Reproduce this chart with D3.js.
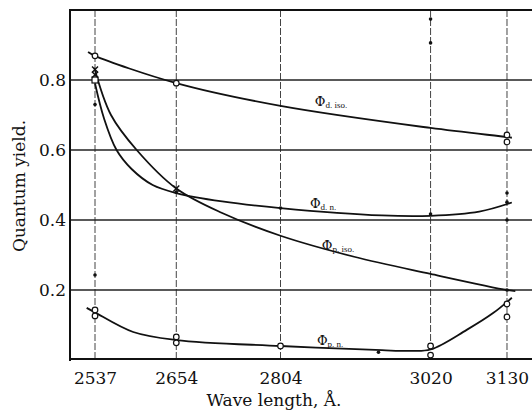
<!DOCTYPE html>
<html>
<head>
<meta charset="utf-8">
<script src="https://cdn.jsdelivr.net/npm/d3@7"></script>
<style>
  body { margin: 0; background: #fff; }
  text { font-family: "DejaVu Serif", "Liberation Serif", serif; fill: #111; }
</style>
</head>
<body>
<div id="chart"></div>
<script>
// Tick values
const waveTicks = [2537, 2654, 2804, 3020, 3130];
const yieldTicks = [0.2, 0.4, 0.6, 0.8];

// Smoothed curves [wavelength, quantum yield]
const phiDIso = [[2527, 0.88], [2537, 0.869], [2654, 0.791], [2804, 0.726], [3020, 0.663], [3130, 0.637], [3137, 0.635]];
const phiDN = [[2537, 0.79], [2550, 0.69], [2568, 0.60], [2590, 0.545], [2620, 0.50], [2654, 0.477], [2720, 0.453], [2804, 0.434], [2950, 0.413], [3020, 0.412], [3090, 0.424], [3137, 0.45]];
const phiPIso = [[2536, 0.835], [2560, 0.70], [2597, 0.60], [2654, 0.49], [2720, 0.42], [2804, 0.355], [2910, 0.295], [3020, 0.246], [3130, 0.20], [3142, 0.197]];
const phiPN = [[2525, 0.149], [2537, 0.136], [2592, 0.08], [2654, 0.057], [2804, 0.04], [2950, 0.028], [2990, 0.026], [3020, 0.03], [3072, 0.086], [3110, 0.134], [3137, 0.178]];

// Measured points
const openPoints = [[2537, 0.869], [2654, 0.791], [3130, 0.643], [3130, 0.623],
  [2537, 0.143], [2537, 0.126], [2654, 0.066], [2654, 0.049], [2804, 0.04],
  [3020, 0.04], [3020, 0.014], [3130, 0.16], [3130, 0.123]];
const squarePoints = [[2537, 0.80]];
const dotPoints = [[2537, 0.73], [2537, 0.243], [3020, 0.974], [3020, 0.906], [3130, 0.477],
  [3130, 0.451], [3130, 0.40], [3020, 0.417], [2804, 0.434], [2945, 0.022], [3130, 0.20], [2654, 0.48]];
const crossPoints = [[2537, 0.83], [2537, 0.815], [2654, 0.49]];

// Curve labels
const curveLabels = [
  { sub: "d. iso.", w: 2862, v: 0.717 },
  { sub: "d. n.", w: 2855, v: 0.426 },
  { sub: "p. iso.", w: 2872, v: 0.306 },
  { sub: "p. n.", w: 2865, v: 0.034 }
];

const W = 532, H = 412;
const svg = d3.select("#chart").append("svg")
    .attr("width", W)
    .attr("height", H);

const x = d3.scaleLinear().domain([2501, 3166]).range([70, 532]);
const y = d3.scaleLinear().domain([0, 1]).range([360, 10]);

// Vertical grid lines (dashed, at the wavelengths used)
svg.selectAll(".vgrid")
    .data(waveTicks)
  .enter().append("line")
    .attr("x1", d => x(d)).attr("x2", d => x(d))
    .attr("y1", y(1)).attr("y2", y(0))
    .attr("stroke", "#444")
    .attr("stroke-width", 1)
    .attr("stroke-dasharray", "7,2");

// Horizontal grid lines
svg.selectAll(".hgrid")
    .data(yieldTicks)
  .enter().append("line")
    .attr("x1", 70).attr("x2", W)
    .attr("y1", d => y(d)).attr("y2", d => y(d))
    .attr("stroke", "#222")
    .attr("stroke-width", 1.4);

// Frame: top, left, bottom
svg.append("line").attr("x1", 70).attr("x2", W).attr("y1", y(1)).attr("y2", y(1))
    .attr("stroke", "#111").attr("stroke-width", 2);
svg.append("line").attr("x1", 70).attr("x2", 70).attr("y1", y(1) - 1).attr("y2", y(0) + 1)
    .attr("stroke", "#111").attr("stroke-width", 2);
svg.append("line").attr("x1", 70).attr("x2", W).attr("y1", y(0) - 1).attr("y2", y(0) - 1)
    .attr("stroke", "#111").attr("stroke-width", 2);

// Axes (labels only)
const xAxis = svg.append("g")
    .attr("transform", "translate(0," + y(0) + ")")
    .call(d3.axisBottom(x).tickValues(waveTicks).tickSize(0).tickPadding(12).tickFormat(d3.format("d")));
xAxis.select(".domain").remove();
xAxis.selectAll("text").attr("font-size", 17).attr("font-family", null);

const yAxis = svg.append("g")
    .attr("transform", "translate(70,0)")
    .call(d3.axisLeft(y).tickValues(yieldTicks).tickSize(0).tickPadding(4).tickFormat(d3.format(".1f")));
yAxis.select(".domain").remove();
yAxis.selectAll("text").attr("font-size", 17).attr("font-family", null);

// Axis titles
svg.append("text")
    .attr("x", 274)
    .attr("y", 406)
    .attr("text-anchor", "middle")
    .attr("font-size", 17)
    .text("Wave length, Å.");

svg.append("text")
    .attr("transform", "translate(25,186) rotate(-90)")
    .attr("text-anchor", "middle")
    .attr("font-size", 17)
    .text("Quantum yield.");

// Curves
const line = d3.line()
    .x(d => x(d[0]))
    .y(d => y(d[1]))
    .curve(d3.curveCatmullRom.alpha(0.5));

[phiDIso, phiDN, phiPIso, phiPN].forEach(c => {
    svg.append("path")
        .datum(c)
        .attr("fill", "none")
        .attr("stroke", "#111")
        .attr("stroke-width", 1.8)
        .attr("d", line);
});

// Markers
svg.selectAll(".open")
    .data(openPoints)
  .enter().append("circle")
    .attr("cx", d => x(d[0]))
    .attr("cy", d => y(d[1]))
    .attr("r", 2.8)
    .attr("fill", "#fff")
    .attr("stroke", "#111")
    .attr("stroke-width", 1.2);

svg.selectAll(".square")
    .data(squarePoints)
  .enter().append("rect")
    .attr("x", d => x(d[0]) - 3)
    .attr("y", d => y(d[1]) - 3)
    .attr("width", 6).attr("height", 6)
    .attr("fill", "#fff")
    .attr("stroke", "#111")
    .attr("stroke-width", 1.2);

svg.selectAll(".dot")
    .data(dotPoints)
  .enter().append("circle")
    .attr("cx", d => x(d[0]))
    .attr("cy", d => y(d[1]))
    .attr("r", 1.8)
    .attr("fill", "#111");

svg.selectAll(".cross")
    .data(crossPoints)
  .enter().append("path")
    .attr("d", d => {
        const cx = x(d[0]), cy = y(d[1]);
        return "M" + (cx - 3) + "," + (cy - 3) + "L" + (cx + 3) + "," + (cy + 3) +
               "M" + (cx + 3) + "," + (cy - 3) + "L" + (cx - 3) + "," + (cy + 3);
    })
    .attr("stroke", "#111")
    .attr("stroke-width", 1.4);

// Curve labels: Φ with subscript
curveLabels.forEach(l => {
    const t = svg.append("text")
        .attr("x", x(l.w) - 6)
        .attr("y", y(l.v) - 3)
        .attr("font-size", 13);
    t.append("tspan").text("Φ");
    t.append("tspan")
        .attr("font-size", 9)
        .attr("font-family", "Liberation Serif")
        .attr("dy", 2)
        .text(l.sub);
});
</script>
</body>
</html>
